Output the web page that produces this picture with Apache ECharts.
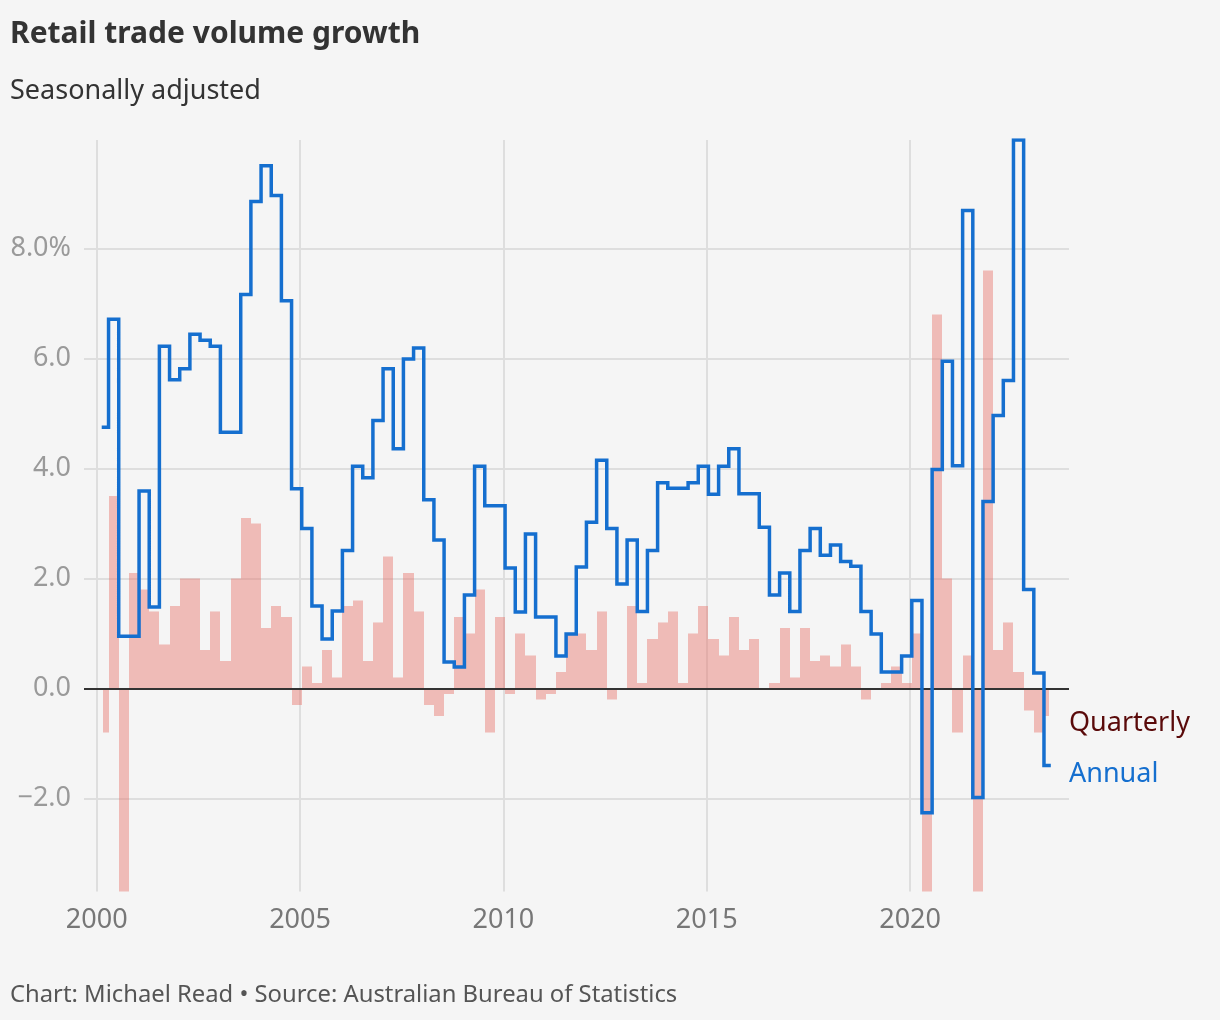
<!DOCTYPE html>
<html>
<head>
<meta charset="utf-8">
<script src="https://cdn.jsdelivr.net/npm/echarts@6/dist/echarts.min.js"></script>
<style>
html,body{margin:0;padding:0;background:#f5f5f5;}
#chart{width:1220px;height:1020px;}
</style>
</head>
<body>
<div id="chart"></div>
<script>
// Quarter dates (month of reference quarter)
const quarters = [
  "2000-03","2000-06","2000-09","2000-12",
  "2001-03","2001-06","2001-09","2001-12",
  "2002-03","2002-06","2002-09","2002-12",
  "2003-03","2003-06","2003-09","2003-12",
  "2004-03","2004-06","2004-09","2004-12",
  "2005-03","2005-06","2005-09","2005-12",
  "2006-03","2006-06","2006-09","2006-12",
  "2007-03","2007-06","2007-09","2007-12",
  "2008-03","2008-06","2008-09","2008-12",
  "2009-03","2009-06","2009-09","2009-12",
  "2010-03","2010-06","2010-09","2010-12",
  "2011-03","2011-06","2011-09","2011-12",
  "2012-03","2012-06","2012-09","2012-12",
  "2013-03","2013-06","2013-09","2013-12",
  "2014-03","2014-06","2014-09","2014-12",
  "2015-03","2015-06","2015-09","2015-12",
  "2016-03","2016-06","2016-09","2016-12",
  "2017-03","2017-06","2017-09","2017-12",
  "2018-03","2018-06","2018-09","2018-12",
  "2019-03","2019-06","2019-09","2019-12",
  "2020-03","2020-06","2020-09","2020-12",
  "2021-03","2021-06","2021-09","2021-12",
  "2022-03","2022-06","2022-09","2022-12",
  "2023-03","2023-06"
];

// Quarterly growth, %
const quarterly = [
  -0.8, 3.5, -4.0, 2.1,
  1.8, 1.4, 0.8, 1.5,
  2.0, 2.0, 0.7, 1.4,
  0.5, 2.0, 3.1, 3.0,
  1.1, 1.5, 1.3, -0.3,
  0.4, 0.1, 0.7, 0.2,
  1.5, 1.6, 0.5, 1.2,
  2.4, 0.2, 2.1, 1.4,
  -0.3, -0.5, -0.1, 1.3,
  1.0, 1.8, -0.8, 1.3,
  -0.1, 1.0, 0.6, -0.2,
  -0.1, 0.3, 1.0, 1.0,
  0.7, 1.4, -0.2, 0.0,
  1.5, 0.1, 0.9, 1.2,
  1.4, 0.1, 1.0, 1.5,
  0.9, 0.6, 1.3, 0.7,
  0.9, 0.0, 0.1, 1.1,
  0.2, 1.1, 0.5, 0.6,
  0.4, 0.8, 0.4, -0.2,
  0.0, 0.1, 0.4, 0.1,
  1.0, -4.2, 6.8, 2.0,
  -0.8, 0.6, -4.4, 7.6,
  0.7, 1.2, 0.3, -0.4,
  -0.8, -0.5
];

// Annual growth, %
const annual = [
  4.75, 6.71, 0.95, 0.95,
  3.59, 1.48, 6.22, 5.61,
  5.81, 6.44, 6.33, 6.22,
  4.66, 4.66, 7.16, 8.85,
  9.50, 8.96, 7.05, 3.63,
  2.91, 1.50, 0.90, 1.41,
  2.51, 4.04, 3.83, 4.87,
  5.81, 4.36, 5.99, 6.19,
  3.43, 2.70, 0.48, 0.39,
  1.70, 4.04, 3.32, 3.32,
  2.19, 1.39, 2.81, 1.30,
  1.30, 0.59, 0.99, 2.21,
  3.02, 4.15, 2.91, 1.90,
  2.70, 1.40, 2.51, 3.74,
  3.64, 3.64, 3.74, 4.04,
  3.53, 4.04, 4.36, 3.54,
  3.54, 2.93, 1.70, 2.10,
  1.40, 2.51, 2.91, 2.42,
  2.61, 2.31, 2.22, 1.40,
  0.99, 0.30, 0.30, 0.59,
  1.60, -2.26, 3.98, 5.95,
  4.05, 8.69, -1.98, 3.40,
  4.96, 5.60, 9.97, 1.80,
  0.28, -1.40
];

const yTicks = [-2, 0, 2, 4, 6, 8];
const xTicks = [2000, 2005, 2010, 2015, 2020];

const titleText = "Retail trade volume growth";
const subtitleText = "Seasonally adjusted";
const footerText = "Chart: Michael Read \u2022 Source: Australian Bureau of Statistics";

function toYear(s) { const p = s.split('-').map(Number); return p[0] + (p[1] - 1) / 12; }
const tq = quarters.map(toYear);
const nQ = tq.length;
const tFirst = tq[0], tLast = tq[nQ - 1];

const Y_MIN = -3.69, Y_MAX = 9.97;
const X_MIN = 1999.688, X_MAX = 2023.907;

const BLUE = '#156fcf';
const BAR = 'rgba(230,107,97,0.42)';

const barData = tq.map((t, i) => [t, quarterly[i]]);
const lineData = tq.map((t, i) => [t, annual[i]]);

const chart = echarts.init(document.getElementById('chart'), null, { renderer: 'canvas' });

const option = {
  backgroundColor: '#f5f5f5',
  animation: false,
  grid: { left: 84, right: 151, top: 140, bottom: 128.5, containLabel: false, outerBoundsMode: 'none' },
  xAxis: {
    type: 'value', min: X_MIN, max: X_MAX,
    axisLine: { show: false },
    axisTick: { show: false, customValues: xTicks },
    axisLabel: {
      customValues: xTicks, margin: 15,
      color: '#777', fontSize: 27, fontFamily: 'Noto Sans',
      formatter: v => String(Math.round(v))
    },
    splitLine: { show: true, lineStyle: { color: '#dedede', width: 2 } }
  },
  yAxis: {
    type: 'value', min: Y_MIN, max: Y_MAX,
    axisLine: { show: false },
    axisTick: { show: false, customValues: yTicks },
    axisLabel: {
      customValues: yTicks, margin: 13,
      color: '#9a9a9a', fontSize: 27, fontFamily: 'Noto Sans',
      verticalAlign: 'middle', padding: [7, 0, 0, 0],
      formatter: v => {
        const s = Math.abs(v).toFixed(1);
        if (v === 8) return s + '%';
        return (v < 0 ? '\u2212' : '') + s;
      }
    },
    splitLine: { show: true, lineStyle: { color: '#dedede', width: 2 } }
  },
  series: [
    {
      type: 'custom',
      name: 'Quarterly',
      z: 2,
      data: barData,
      renderItem: function (params, api) {
        const i = params.dataIndex;
        const t = api.value(0);
        let v = api.value(1);
        v = Math.max(Y_MIN, Math.min(Y_MAX, v));
        const a = i > 0 ? (tq[i - 1] + t) / 2 : tFirst;
        const b = i < nQ - 1 ? (t + tq[i + 1]) / 2 : tLast;
        const p0 = api.coord([a, v]);
        const p1 = api.coord([b, 0]);
        const x0 = Math.round(p0[0]), x1 = Math.round(p1[0]);
        const yTop = Math.min(p0[1], p1[1]);
        const h = Math.abs(p1[1] - p0[1]);
        return {
          type: 'rect',
          shape: { x: x0, y: yTop, width: x1 - x0, height: h },
          style: { fill: BAR }
        };
      }
    },
    {
      type: 'line',
      name: 'Annual',
      z: 4,
      data: lineData,
      step: 'middle',
      showSymbol: false,
      symbol: 'none',
      lineStyle: { color: BLUE, width: 3.5, join: 'miter', cap: 'square' },
      markLine: {
        silent: true,
        symbol: ['none', 'none'],
        label: { show: false },
        lineStyle: { color: '#333', width: 2, type: 'solid' },
        data: [{ yAxis: 0 }],
        z: 3
      }
    }
  ],
  graphic: [
    { type: 'text', left: 10, top: 19, style: { text: titleText, font: 'bold 30px "Noto Sans"', fill: '#333' } },
    { type: 'text', left: 10, top: 78, style: { text: subtitleText, font: '27px "Noto Sans"', fill: '#333' } },
    { type: 'text', left: 10, top: 983, style: { text: footerText, font: '23.8px "Noto Sans"', fill: '#555' } },
    { type: 'text', left: 1069, top: 710, style: { text: 'Quarterly', font: '27px "Noto Sans"', fill: '#5a0a0a' } },
    { type: 'text', left: 1069, top: 761, style: { text: 'Annual', font: '27px "Noto Sans"', fill: BLUE } }
  ]
};
chart.setOption(option);
</script>
</body>
</html>
